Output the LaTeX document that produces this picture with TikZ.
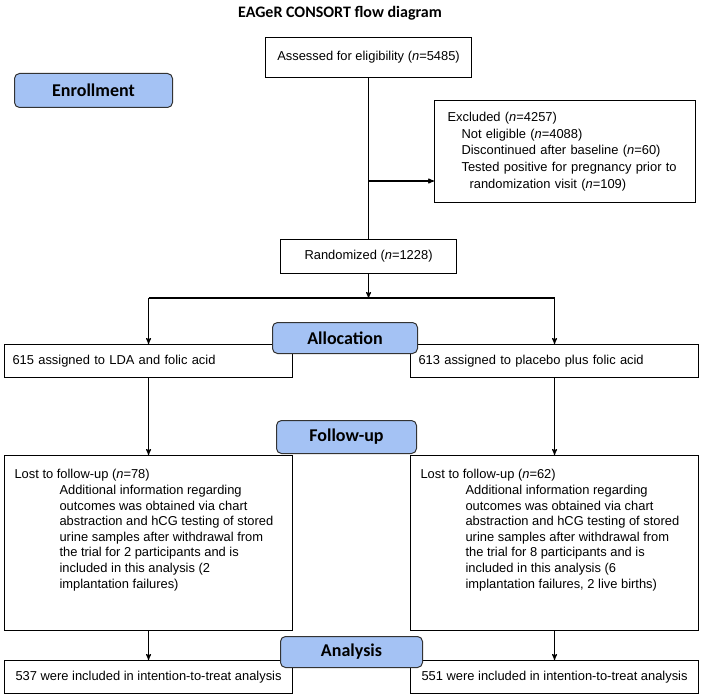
\documentclass[tikz,border=0pt]{standalone}
\usepackage{fontspec}
\setmainfont{Liberation Sans}
\newfontfamily\stagefont{Carlito}
\usepackage{tikz}
\usetikzlibrary{arrows}
\definecolor{stageblue}{RGB}{164,194,244}

\begin{document}
\begin{tikzpicture}[-,>=stealth',x=1pt,y=-1pt,line width=1.1pt,
  box node/.style={rectangle,draw,anchor=north west,inner sep=0pt,
    font=\fontsize{12.9}{15.6}\selectfont},
  list node/.style={box node,align=left,inner xsep=13pt,
    font=\fontsize{12.9}{16.7}\selectfont},
  arm node/.style={box node,align=left,inner xsep=8pt,text width=272,minimum height=33},
  lost node/.style={box node,inner xsep=10pt,inner ysep=14pt},
  stage node/.style={rectangle,draw=black!80,line width=1pt,fill=stageblue,
    rounded corners=5pt,anchor=north west,inner sep=0pt,
    font=\stagefont\bfseries\fontsize{18}{20}\selectfont},
  title node/.style={font=\stagefont\bfseries\fontsize{16}{18}\selectfont}]
  \useasboundingbox (0,0) rectangle (702,698);

  \node[title node] (title) at (340,13) {EAGeR CONSORT flow diagram};

  % enrollment
  \node[box node,minimum width=206,minimum height=40] (assess) at (265,37)
    {Assessed for eligibility (\textit{n}=5485)};
  \node[list node,text width=235,minimum height=102] (excl) at (434,100)
    {Excluded (\textit{n}=4257)\\
     \hspace*{14pt}Not eligible (\textit{n}=4088)\\
     \hspace*{14pt}Discontinued after baseline (\textit{n}=60)\\
     \hspace*{14pt}Tested positive for pregnancy prior to\\
     \hspace*{22pt}randomization visit (\textit{n}=109)};
  \node[box node,minimum width=176,minimum height=34] (random) at (280,239)
    {Randomized (\textit{n}=1228)};

  % allocation
  \node[arm node] (assignL) at (4,344) {615 assigned to LDA and folic acid};
  \node[arm node] (assignR) at (410,344) {613 assigned to placebo plus folic acid};

  % follow-up
  \node[lost node] (lostL) at (4,455)
    {\parbox[c][147pt][t]{268pt}{\raggedright
     Lost to follow-up (\textit{n}=78)\par
     \leftskip=45pt
     Additional information regarding\\
     outcomes was obtained via chart\\
     abstraction and hCG testing of stored\\
     urine samples after withdrawal from\\
     the trial for 2 participants and is\\
     included in this analysis (2\\
     implantation failures)\par}};
  \node[lost node] (lostR) at (410,455)
    {\parbox[c][147pt][t]{268pt}{\raggedright
     Lost to follow-up (\textit{n}=62)\par
     \leftskip=45pt
     Additional information regarding\\
     outcomes was obtained via chart\\
     abstraction and hCG testing of stored\\
     urine samples after withdrawal from\\
     the trial for 8 participants and is\\
     included in this analysis (6\\
     implantation failures, 2 live births)\par}};

  % analysis
  \node[box node,minimum width=288,minimum height=33] (resultL) at (4,660)
    {537 were included in intention-to-treat analysis};
  \node[box node,minimum width=288,minimum height=33] (resultR) at (410,660)
    {551 were included in intention-to-treat analysis};

  % stage labels
  \node[stage node,minimum width=158,minimum height=34] (enroll) at (14,73) {Enrollment};
  \node[stage node,minimum width=145,minimum height=31] (alloc) at (272,322) {Allocation};
  \node[stage node,minimum width=140,minimum height=33] (follow) at (276,420) {Follow-up};
  \node[stage node,minimum width=142,minimum height=31] (analysis) at (280,636) {Analysis};

  \coordinate (exclsplit) at (assess.south |- 0,181);
  \coordinate (randsplit) at (random.south |- 0,298);
  \coordinate (splitL) at (assignL.north |- randsplit);
  \coordinate (splitR) at (assignR.north |- randsplit);

  \path[draw]
    (assess) -- (random)
    (splitL) -- (splitR);
  \path[->]
    (exclsplit) edge (exclsplit -| excl.west)
    (random) edge (randsplit)
    (splitL) edge (assignL)
    (splitR) edge (assignR)
    (assignL) edge (lostL)
    (assignR) edge (lostR)
    (lostL) edge (resultL)
    (lostR) edge (resultR);
\end{tikzpicture}
\end{document}
